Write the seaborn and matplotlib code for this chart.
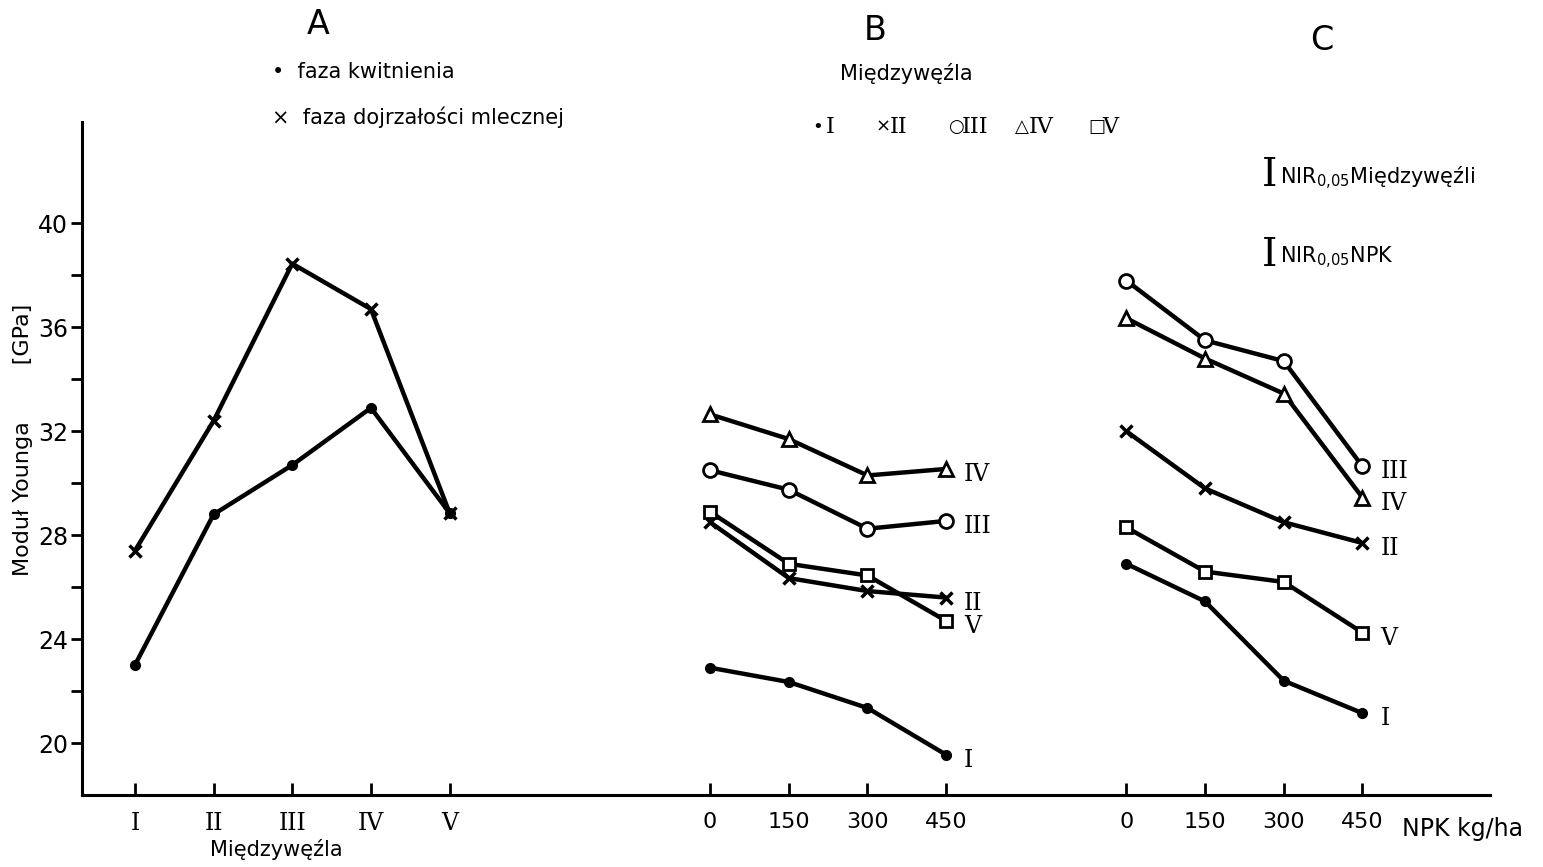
import numpy as np
import pandas as pd
import seaborn as sns
import matplotlib.pyplot as plt

# A: moduł Younga wg międzywęźli, dwie fazy
mi_labels = ['I', 'II', 'III', 'IV', 'V']
kwitnienie = [23.0, 28.8, 30.7, 32.9, 28.85]
mleczna = [27.4, 32.4, 38.45, 36.7, 28.85]

# B i C: wg dawki NPK, osobno dla każdego międzywęźla
npk = [0, 150, 300, 450]
b_I = [22.9, 22.35, 21.35, 19.55]
b_II = [28.5, 26.35, 25.85, 25.6]
b_III = [30.5, 29.75, 28.25, 28.55]
b_IV = [32.65, 31.7, 30.3, 30.55]
b_V = [28.9, 26.9, 26.45, 24.7]

c_I = [26.9, 25.45, 22.4, 21.15]
c_II = [32.0, 29.8, 28.5, 27.7]
c_III = [37.8, 35.5, 34.7, 30.65]
c_IV = [36.35, 34.8, 33.45, 29.45]
c_V = [28.3, 26.6, 26.2, 24.25]

sns.set_style('ticks')
plt.rcParams['font.family'] = ['DejaVu Sans']
plt.rcParams['text.color'] = 'black'
plt.rcParams['xtick.color'] = 'black'
plt.rcParams['ytick.color'] = 'black'
plt.rcParams['axes.edgecolor'] = 'black'
serif = 'DejaVu Serif'

fig = plt.figure(figsize=(15.43, 8.67), dpi=100)
ax = fig.add_axes([0.0531, 0.083, 0.9125, 0.7762])

pos_a = np.arange(len(mi_labels))
pos_b = 7.31 + np.array(npk) / 150
pos_c = 12.6 + np.array(npk) / 150

styles = {
    'I': dict(marker='o', ms=7, mfc='black', mew=1),
    'II': dict(marker='x', ms=8, mew=2.5),
    'III': dict(marker='o', ms=10, mfc='white', mew=2),
    'IV': dict(marker='^', ms=10, mfc='white', mew=2),
    'V': dict(marker='s', ms=9, mfc='white', mew=2),
}

def line(x, y, key):
    sns.lineplot(x=x, y=y, ax=ax, color='black', lw=3.2, mec='black',
                 errorbar=None, **styles[key])

# panel A
line(pos_a, kwitnienie, 'I')
line(pos_a, mleczna, 'II')

# panel B i C
for pos, series in [(pos_b, [b_I, b_II, b_III, b_IV, b_V]),
                    (pos_c, [c_I, c_II, c_III, c_IV, c_V])]:
    for key, vals in zip(mi_labels, series):
        line(pos, vals, key)
        ax.annotate(key, xy=(pos[-1], vals[-1]), xytext=(13, -4),
                    textcoords='offset points', va='center', ha='left',
                    fontsize=17, family=serif)

ax.set_xlim(-0.673, 17.22)
ax.set_ylim(18, 43.9)
ax.set_yticks(np.arange(20, 41, 4))
ax.set_yticks(np.arange(22, 40, 4), minor=True)
ax.tick_params(axis='y', which='both', direction='out', length=8, width=2,
               labelsize=17, pad=2)

ax.set_xticks(np.concatenate([pos_a, pos_b, pos_c]))
ax.set_xticklabels(mi_labels + [str(v) for v in npk] * 2)
ax.tick_params(axis='x', direction='in', length=9, width=2, labelsize=16, pad=12)
for lab in ax.get_xticklabels()[:5]:
    lab.set_family(serif)
    lab.set_fontsize(17)

sns.despine(ax=ax)
for s in ['left', 'bottom']:
    ax.spines[s].set_linewidth(2.2)
ax.set_xlabel('')
ax.set_ylabel('')

W, H = 1543, 867
def ftext(px, py, s, **kw):
    fig.text(px / W, 1 - py / H, s, **kw)

ftext(23, 440, 'Moduł Younga        [GPa]', rotation=90, ha='center', va='center', fontsize=16)
ftext(276, 850, 'Międzywęźla', ha='center', va='center', fontsize=15)
ftext(1402, 829, 'NPK kg/ha', ha='left', va='center', fontsize=17)

ftext(318, 25, 'A', ha='center', va='center', fontsize=24)
ftext(272, 72, '•  faza kwitnienia', ha='left', va='center', fontsize=15)
ftext(272, 117, '×  faza dojrzałości mlecznej', ha='left', va='center', fontsize=15)

ftext(875, 30, 'B', ha='center', va='center', fontsize=24)
ftext(906, 73, 'Międzywęźla', ha='center', va='center', fontsize=15)
legend_items = [('•', 'I', 812), ('×', 'II', 876), ('○', 'III', 948),
                ('△', 'IV', 1015), ('□', 'V', 1088)]
for sym, num, px in legend_items:
    ftext(px, 127, sym, ha='left', va='center', fontsize=13)
    ftext(px + 14, 127, num, ha='left', va='center', fontsize=16, family=serif)

ftext(1322, 40, 'C', ha='center', va='center', fontsize=24)
ftext(1270, 176, 'I', ha='center', va='center', fontsize=28, family=serif)
ftext(1280, 178, 'NIR$_{0{,}05}$Międzywęźli', ha='left', va='center', fontsize=15)
ftext(1270, 256, 'I', ha='center', va='center', fontsize=28, family=serif)
ftext(1280, 258, 'NIR$_{0{,}05}$NPK', ha='left', va='center', fontsize=15)

fig.savefig('out.png', dpi=100)
